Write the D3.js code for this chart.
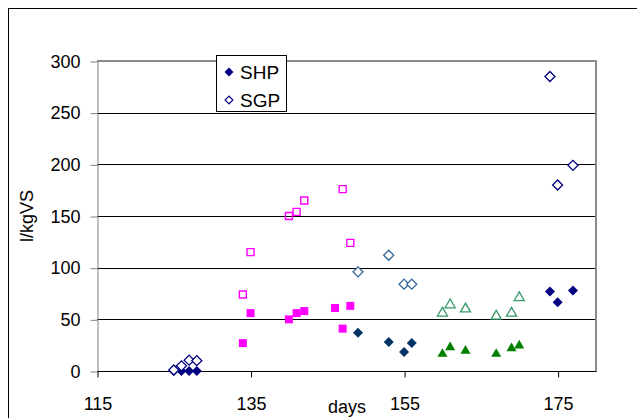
<!DOCTYPE html>
<html>
<head>
<meta charset="utf-8">
<script src="https://cdn.jsdelivr.net/npm/d3@7"></script>
<style>
  html, body { margin: 0; padding: 0; background: #fff; }
  svg { display: block; font-family: Arial, "Liberation Sans", sans-serif; }
</style>
</head>
<body>
<svg id="chart" width="637" height="418"></svg>
<script>
// ---- data ----
const xTicks = [115, 135, 155, 175];
const yTicks = [0, 50, 100, 150, 200, 250, 300];

const shpDays   = [125, 126, 127, 128, 174, 175, 177];
const shpValues = [0, 0, 0, 0, 77, 66.5, 78];
const sgpDays   = [125, 126, 127, 128, 174, 175, 177];
const sgpValues = [1, 5, 10.5, 10, 285, 180, 199];

const shp2Days   = [149, 153, 155, 156];
const shp2Values = [37, 28, 18.5, 27];
const sgp2Days   = [149, 153, 155, 156];
const sgp2Values = [96, 112, 84, 84];

const magFilledDays   = [134, 135, 140, 141, 142, 146, 147, 148];
const magFilledValues = [27, 56, 50, 56, 58, 61, 41, 63];
const magOpenDays     = [134, 135, 140, 141, 142, 147, 148];
const magOpenValues   = [74, 115, 150, 154, 165, 176, 124];

const grnFilledDays   = [160, 161, 163, 167, 169, 170];
const grnFilledValues = [16.5, 23, 19.5, 16.5, 22, 24.5];
const grnOpenDays     = [160, 161, 163, 167, 169, 170];
const grnOpenValues   = [56, 64, 60, 53, 56, 71];

const legendNames = ["SHP", "SGP"];

// ---- layout ----
const svg = d3.select("#chart");
const pLeft = 97, pRight = 596, pTop = 61, pBottom = 371;
const x = d3.scaleLinear().domain([115, 180]).range([pLeft, pRight]);
const y = d3.scaleLinear().domain([0, 300]).range([pBottom, pTop]);
const FONT = "Arial, 'Liberation Sans', sans-serif";

// outer chart border
svg.append("rect").attr("x", 8.5).attr("y", 8.5).attr("width", 700).attr("height", 500)
  .attr("fill", "none").attr("stroke", "#000").attr("stroke-width", 1);

// gridlines
svg.append("g").selectAll("line").data(yTicks.filter(v => v > 0 && v < 300)).join("line")
  .attr("x1", pLeft).attr("x2", pRight)
  .attr("y1", d => Math.round(y(d)) + 0.5).attr("y2", d => Math.round(y(d)) + 0.5)
  .attr("stroke", "#000").attr("stroke-width", 1);

// plot area border (top and right)
svg.append("path")
  .attr("d", `M${pLeft},${pTop}H${pRight}V${pBottom}`)
  .attr("fill", "none").attr("stroke", "#8c8c8c").attr("stroke-width", 2);

// axes
const yAxis = d3.axisLeft(y).tickValues(yTicks).tickSize(7).tickPadding(10).tickSizeOuter(0);
const gy = svg.append("g").attr("transform", `translate(${pLeft + 0.5},0.5)`).call(yAxis);
gy.select(".domain").attr("stroke", "#808080");
gy.selectAll(".tick line").attr("stroke", "#808080");
gy.selectAll("text").attr("font-size", 18).attr("fill", "#000").attr("font-family", FONT);

const xAxis = d3.axisBottom(x).tickValues(xTicks).tickSize(6).tickPadding(20).tickSizeOuter(0);
const gx = svg.append("g").attr("transform", `translate(0.5,${pBottom + 0.5})`).call(xAxis);
gx.select(".domain").attr("stroke", "#000").attr("d", `M${pLeft},0H${pRight}`);
gx.selectAll(".tick line").attr("stroke", "#000");
gx.selectAll("text").attr("font-size", 18).attr("fill", "#000").attr("font-family", FONT);

// axis titles
svg.append("text").attr("x", 347).attr("y", 413).attr("text-anchor", "middle")
  .attr("font-size", 18).text("days");
svg.append("text").attr("transform", "translate(33,216) rotate(-90)")
  .attr("text-anchor", "middle").attr("font-size", 18).text("l/kgVS");

// markers
const diamondPath = d3.symbol().type(d3.symbolSquare).size(50)();
const squareFilled = d3.symbol().type(d3.symbolSquare).size(64)();
const squareOpen = d3.symbol().type(d3.symbolSquare).size(49)();
const triPath = d3.symbol().type(d3.symbolTriangle).size(44)();

function plot(days, values, path, rot, fill, stroke, sw) {
  svg.append("g").selectAll("path").data(days.map((d, i) => [d, values[i]])).join("path")
    .attr("d", path)
    .attr("transform", d => `translate(${x(d[0])},${y(d[1])}) rotate(${rot})`)
    .attr("fill", fill).attr("stroke", stroke).attr("stroke-width", sw);
}

plot(magOpenDays, magOpenValues, squareOpen, 0, "none", "#ff00ff", 1.4);
plot(magFilledDays, magFilledValues, squareFilled, 0, "#ff00ff", "none", 0);
plot(grnOpenDays, grnOpenValues, triPath, 0, "none", "#339966", 1.3);
plot(grnFilledDays, grnFilledValues, triPath, 0, "#008000", "none", 0);
plot(shpDays, shpValues, diamondPath, 45, "#000080", "none", 0);
plot(shp2Days, shp2Values, diamondPath, 45, "#003366", "none", 0);
plot(sgp2Days, sgp2Values, diamondPath, 45, "#fff", "#336699", 1.3);
plot(sgpDays, sgpValues, diamondPath, 45, "#fff", "#000080", 1.3);

// legend
const lg = svg.append("g");
lg.append("rect").attr("x", 216.5).attr("y", 55.5).attr("width", 70).attr("height", 56)
  .attr("fill", "#fff").attr("stroke", "#000").attr("stroke-width", 1);
const legendStyles = [
  { fill: "#000080", stroke: "none", sw: 0 },
  { fill: "#fff", stroke: "#000080", sw: 1.2 }
];
legendNames.forEach((name, i) => {
  const cy = 72 + i * 28;
  lg.append("path").attr("d", d3.symbol().type(d3.symbolSquare).size(i === 0 ? 40 : 30)())
    .attr("transform", `translate(229,${cy}) rotate(45)`)
    .attr("fill", legendStyles[i].fill).attr("stroke", legendStyles[i].stroke)
    .attr("stroke-width", legendStyles[i].sw);
  lg.append("text").attr("x", 240).attr("y", cy + 7).attr("font-size", 19).text(name);
});
</script>
</body>
</html>
